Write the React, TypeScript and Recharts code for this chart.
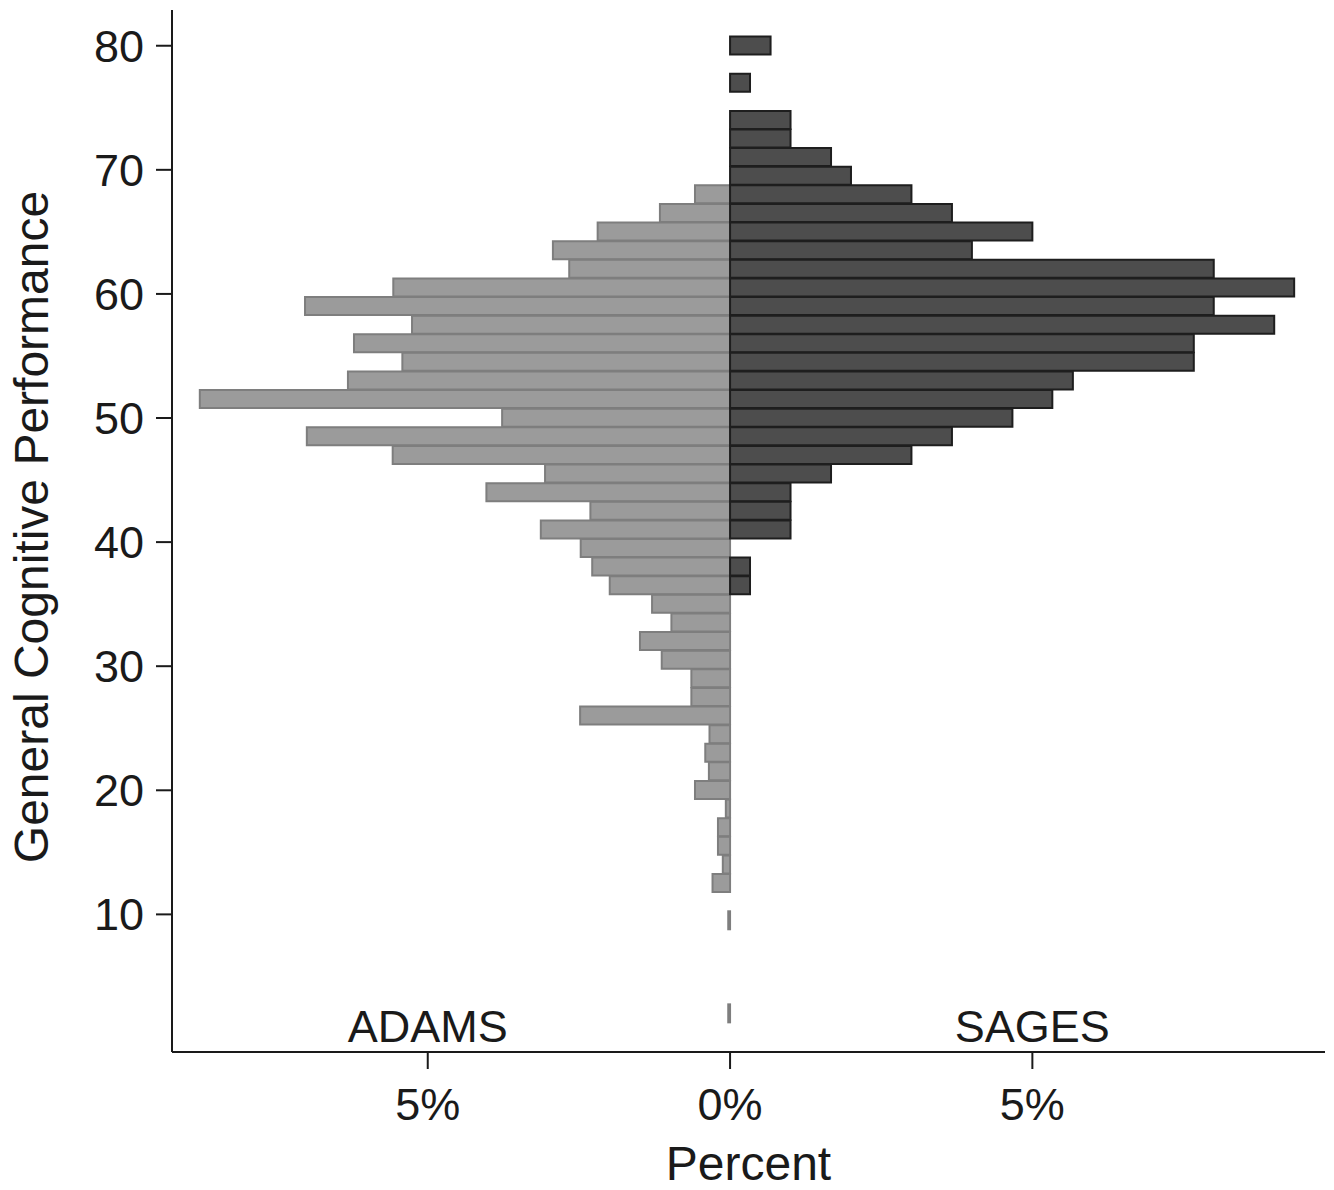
import React from "react";
import { Bar, BarChart, Label, ReferenceDot, XAxis, YAxis } from "recharts";

// bin centres of General Cognitive Performance (1.5-point bins), top to bottom
const SCORE_BINS = [
  80, 78.5, 77, 75.5, 74, 72.5, 71, 69.5, 68, 66.5, 65, 63.5, 62, 60.5, 59, 57.5, 56, 54.5,
  53, 51.5, 50, 48.5, 47, 45.5, 44, 42.5, 41, 39.5, 38, 36.5, 35, 33.5, 32, 30.5, 29, 27.5,
  26, 24.5, 23, 21.5, 20, 18.5, 17, 15.5, 14, 12.5, 11, 9.5, 8, 6.5, 5, 3.5, 2,
];

// percent of sample in each bin
const ADAMS_PCT = [
  0, 0, 0, 0, 0, 0, 0, 0, 0.58, 1.16, 2.19, 2.93, 2.66, 5.57, 7.03, 5.26, 6.22, 5.42,
  6.32, 8.77, 3.77, 7.0, 5.58, 3.06, 4.03, 2.31, 3.13, 2.47, 2.28, 1.99, 1.29, 0.97, 1.49, 1.13, 0.64, 0.64,
  2.48, 0.34, 0.41, 0.35, 0.58, 0.07, 0.2, 0.2, 0.12, 0.29, 0, 0.03, 0, 0, 0, 0, 0.03,
];

const SAGES_PCT = [
  0.67, 0, 0.33, 0, 1.0, 1.0, 1.67, 2.0, 3.0, 3.67, 5.0, 4.0, 8.0, 9.33, 8.0, 9.0, 7.67, 7.67,
  5.67, 5.33, 4.67, 3.67, 3.0, 1.67, 1.0, 1.0, 1.0, 0, 0.33, 0.33, 0, 0, 0, 0, 0, 0,
  0, 0, 0, 0, 0, 0, 0, 0, 0, 0, 0, 0, 0, 0, 0, 0, 0,
];

const Y_TICKS = [10, 20, 30, 40, 50, 60, 70, 80];
const X_TICKS = [-5, 0, 5];

const FONT = '"Liberation Sans", Arial, Helvetica, sans-serif';
const INK = "#1a1a1a";

const rows = SCORE_BINS.map((score, i) => ({
  score,
  adams: -ADAMS_PCT[i],
  sages: SAGES_PCT[i],
}));

function YTitle(props: any) {
  const vb = props.viewBox || {};
  const cx = 48;
  const cy = (vb.y ?? 10) + (vb.height ?? 1042) / 2 - 4;
  return (
    <text
      x={cx}
      y={cy}
      transform={`rotate(-90 ${cx} ${cy})`}
      textAnchor="middle"
      fontSize={48}
      fontFamily={FONT}
      fill={INK}
    >
      General Cognitive Performance
    </text>
  );
}

export default function App() {
  return (
    <div style={{ position: "absolute", left: 0, top: 0, background: "#fff" }}>
      <BarChart
        width={1334}
        height={1190}
        data={rows}
        layout="vertical"
        stackOffset="sign"
        margin={{ top: 10, right: 9, bottom: 0, left: 0 }}
      >
        <XAxis
          type="number"
          domain={[-9.23, 9.84]}
          allowDataOverflow
          ticks={X_TICKS}
          tickFormatter={(v: number) => `${Math.abs(v)}%`}
          height={138}
          axisLine={{ stroke: INK, strokeWidth: 2 }}
          tickLine={{ stroke: INK, strokeWidth: 2 }}
          tickSize={17}
          tickMargin={19}
          tick={{ fontSize: 45, fill: INK, fontFamily: FONT }}
        >
          <Label
            value="Percent"
            position="insideBottom"
            offset={10}
            fontSize={48}
            fontFamily={FONT}
            fill={INK}
          />
        </XAxis>
        <YAxis
          type="number"
          dataKey="score"
          domain={[-1.09, 82.88]}
          allowDataOverflow
          reversed
          ticks={Y_TICKS}
          width={172}
          axisLine={{ stroke: INK, strokeWidth: 2 }}
          tickLine={{ stroke: INK, strokeWidth: 2 }}
          tickSize={16}
          tickMargin={12}
          tick={{ fontSize: 45, fill: INK, fontFamily: FONT }}
        >
          <Label content={<YTitle />} />
        </YAxis>
        <Bar
          dataKey="adams"
          stackId="hist"
          barSize={18}
          fill="#9b9b9b"
          stroke="#7e7e7e"
          strokeWidth={2}
          isAnimationActive={false}
        />
        <Bar
          dataKey="sages"
          stackId="hist"
          barSize={18}
          fill="#4d4d4d"
          stroke="#1e1e1e"
          strokeWidth={2}
          isAnimationActive={false}
        />
        <ReferenceDot
          x={-5}
          y={1.0}
          r={0}
          fill="none"
          stroke="none"
          label={{ value: "ADAMS", position: "center", fontSize: 45, fontFamily: FONT, fill: INK }}
        />
        <ReferenceDot
          x={5}
          y={1.0}
          r={0}
          fill="none"
          stroke="none"
          label={{ value: "SAGES", position: "center", fontSize: 45, fontFamily: FONT, fill: INK }}
        />
      </BarChart>
    </div>
  );
}
